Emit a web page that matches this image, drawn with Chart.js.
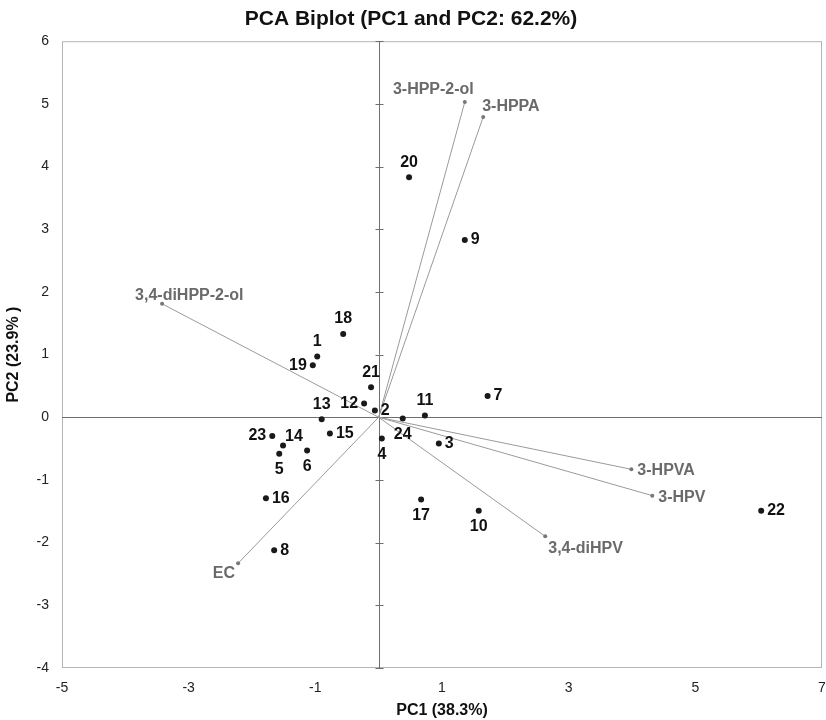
<!DOCTYPE html>
<html>
<head>
<meta charset="utf-8">
<title>PCA Biplot</title>
<script src="https://cdn.jsdelivr.net/npm/chart.js@4/dist/chart.umd.min.js"></script>
<style>
    html, body { margin: 0; padding: 0; background: #fff; }
    #wrap { width: 826px; height: 720px; position: relative; }
</style>
</head>
<body>
<div id="wrap"><canvas id="biplot"></canvas></div>
<script>

// SCORES BEGIN

const sampleIds = ['1','2','3','4','5','6','7','8','9','10','11','12','13','14','15','16','17','18','19','20','21','22','23','24'];
const pc1Scores = [-0.97, -0.06, 0.95, 0.05, -1.57, -1.13, 1.72, -1.65, 1.36, 1.58, 0.73, -0.23, -0.90, -1.51, -0.77, -1.78, 0.67, -0.56, -1.04, 0.48, -0.12, 6.04, -1.68, 0.38];
const pc2Scores = [0.97, 0.11, -0.42, -0.34, -0.58, -0.53, 0.34, -2.12, 2.83, -1.49, 0.03, 0.22, -0.03, -0.45, -0.26, -1.29, -1.31, 1.33, 0.83, 3.83, 0.48, -1.49, -0.30, -0.02];

// SCORES END

// LOADINGS BEGIN

const loadingNames = ['3-HPP-2-ol', '3-HPPA', '3,4-diHPP-2-ol', '3-HPVA', '3-HPV', '3,4-diHPV', 'EC'];
const pc1Loadings = [1.36, 1.65, -3.42, 3.99, 4.32, 2.63, -2.22];
const pc2Loadings = [5.03, 4.79, 1.81, -0.83, -1.25, -1.90, -2.33];

// LOADINGS END

// axis ranges
const xTicks = [-5, -3, -1, 1, 3, 5, 7];
const yTicks = [-4, -3, -2, -1, 0, 1, 2, 3, 4, 5, 6];

// where each label sits next to its mark
const sampleLabelSide = ['t','r','r','b','b','b','r','r','r','b','t','l','t','tr','r','r','b','t','l','t','t','r','l','b'];
const loadingLabelPos = [
    [9, -12, 'right'],
    [-1, -10, 'left'],
    [-27, -8, 'left'],
    [6, 1, 'left'],
    [6, 2, 'left'],
    [3, 12, 'left'],
    [-3, 10, 'right']
];

const FONT = "'Liberation Sans', Arial, sans-serif";

let samplePoints = sampleIds.map(function (id, i)
{
    return {x: pc1Scores[i], y: pc2Scores[i]};
});

let datasets = [];

loadingNames.forEach(function (name, i)
{
    datasets.push({
        label: name,
        data: [{x: 0, y: 0}, {x: pc1Loadings[i], y: pc2Loadings[i]}],
        showLine: true,
        borderColor: '#9a9a9a',
        borderWidth: 1,
        pointRadius: [0, 2],
        pointBackgroundColor: '#777',
        pointBorderWidth: 0
    });
});

datasets.push({
    label: 'samples',
    data: samplePoints,
    pointRadius: 3,
    pointBackgroundColor: '#1a1a1a',
    pointBorderWidth: 0
});

// ZERO LINES AND FRAME

const framePlugin = {
    id: 'frame',
    beforeDatasetsDraw: function (chart)
    {
        let ctx = chart.ctx;
        let a = chart.chartArea;
        let xs = chart.scales.x;
        let ys = chart.scales.y;

        ctx.save();
        ctx.strokeStyle = '#b5b5b5';
        ctx.lineWidth = 1;
        ctx.strokeRect(a.left + 0.5, a.top + 0.5, a.right - a.left - 1, a.bottom - a.top - 1);

        let x0 = Math.round(xs.getPixelForValue(0)) + 0.5;
        let y0 = Math.round(ys.getPixelForValue(0)) + 0.5;

        ctx.strokeStyle = '#6e6e6e';
        ctx.beginPath();
        ctx.moveTo(a.left, y0);
        ctx.lineTo(a.right, y0);
        ctx.moveTo(x0, a.top);
        ctx.lineTo(x0, a.bottom);

        yTicks.forEach(function (v)
        {
            let py = Math.round(ys.getPixelForValue(v)) + 0.5;
            ctx.moveTo(x0 - 4, py);
            ctx.lineTo(x0 + 4, py);
        });
        ctx.stroke();
        ctx.restore();
    }
};

// LABELS

const labelPlugin = {
    id: 'labels',
    afterDatasetsDraw: function (chart)
    {
        let ctx = chart.ctx;
        let xs = chart.scales.x;
        let ys = chart.scales.y;

        ctx.save();
        ctx.textBaseline = 'middle';

        ctx.font = 'bold 16px ' + FONT;
        ctx.fillStyle = '#111';
        sampleIds.forEach(function (id, i)
        {
            let px = xs.getPixelForValue(pc1Scores[i]);
            let py = ys.getPixelForValue(pc2Scores[i]);
            let side = sampleLabelSide[i];

            if (side === 't')
            {
                ctx.textAlign = 'center';
                ctx.fillText(id, px, py - 15);
            } else if (side === 'b') {
                ctx.textAlign = 'center';
                ctx.fillText(id, px, py + 16);
            } else if (side === 'l') {
                ctx.textAlign = 'right';
                ctx.fillText(id, px - 6, py);
            } else if (side === 'tr') {
                ctx.textAlign = 'left';
                ctx.fillText(id, px + 2, py - 9);
            } else {
                ctx.textAlign = 'left';
                ctx.fillText(id, px + 6, py);
            }
        });

        ctx.fillStyle = '#6a6a6a';
        loadingNames.forEach(function (name, i)
        {
            let px = xs.getPixelForValue(pc1Loadings[i]);
            let py = ys.getPixelForValue(pc2Loadings[i]);
            let pos = loadingLabelPos[i];
            ctx.textAlign = pos[2];
            ctx.fillText(name, px + pos[0], py + pos[1]);
        });

        ctx.restore();
    }
};

let ctx = document.getElementById('biplot').getContext('2d');
new Chart(ctx,
{
    type: 'scatter',
    data: { datasets: datasets },
    options:
    {
        responsive: true,
        maintainAspectRatio: false,
        animation: false,
        layout: { padding: { left: 0, right: 4, top: 0, bottom: 0 } },
        plugins:
        {
            legend: { display: false },
            tooltip: { enabled: false },
            title:
            {
                display: true,
                text: 'PCA Biplot (PC1 and PC2: 62.2%)',
                color: '#111',
                font: { family: FONT, size: 21, weight: 'bold' },
                padding: { top: 7, bottom: 9 }
            }
        },
        scales:
        {
            x:
            {
                type: 'linear',
                min: -5,
                max: 7,
                grid: { display: false },
                border: { display: false },
                afterBuildTicks: function (scale)
                {
                    scale.ticks = xTicks.map(function (v) { return {value: v}; });
                },
                afterFit: function (scale)
                {
                    scale.height = 52;
                    scale.paddingRight = 0;
                    scale.paddingLeft = 0;
                },
                ticks:
                {
                    color: '#222',
                    font: { family: FONT, size: 14 },
                    padding: 4,
                    maxRotation: 0
                },
                title:
                {
                    display: true,
                    text: 'PC1 (38.3%)',
                    color: '#111',
                    font: { family: FONT, size: 16, weight: 'bold' },
                    padding: { top: 2, bottom: 0 }
                }
            },
            y:
            {
                type: 'linear',
                min: -4,
                max: 6,
                grid: { display: false },
                border: { display: false },
                afterBuildTicks: function (scale)
                {
                    scale.ticks = yTicks.map(function (v) { return {value: v}; });
                },
                afterFit: function (scale)
                {
                    scale.width = 62;
                },
                ticks:
                {
                    color: '#222',
                    font: { family: FONT, size: 14 },
                    padding: 5
                },
                title:
                {
                    display: true,
                    text: 'PC2 (23.9% )',
                    color: '#111',
                    font: { family: FONT, size: 16, weight: 'bold' },
                    padding: { top: 4, bottom: 0 }
                }
            }
        }
    },
    plugins: [framePlugin, labelPlugin]
});

</script>
</body>
</html>
